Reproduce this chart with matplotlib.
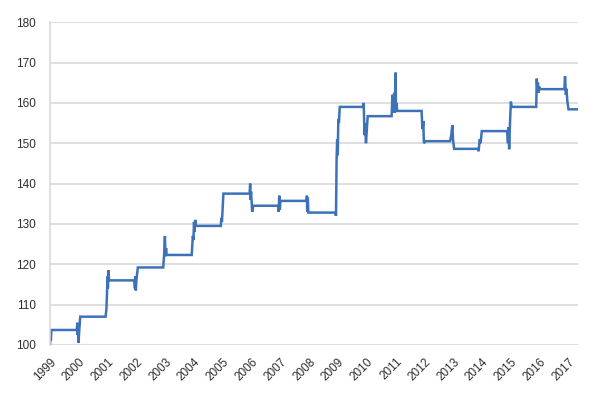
import matplotlib
matplotlib.use("Agg")
import matplotlib.pyplot as plt

# index level (decimal year, value)
years = [
    1999.00, 1999.02, 1999.03, 1999.05, 1999.93, 1999.95, 1999.96, 1999.97, 1999.99, 2000.02,
    2000.05, 2000.93, 2000.96, 2000.98, 2001.00, 2001.01, 2001.03, 2001.05, 2001.93, 2001.95,
    2001.96, 2001.98, 2002.00, 2002.05, 2002.93, 2002.96, 2002.99, 2003.01, 2003.03, 2003.05,
    2003.92, 2003.96, 2003.98, 2004.00, 2004.02, 2004.04, 2004.07, 2004.93, 2004.95, 2004.97,
    2005.02, 2005.93, 2005.95, 2005.96, 2005.98, 2006.02, 2006.06, 2006.92, 2006.94, 2006.96,
    2006.98, 2007.00, 2007.90, 2007.92, 2007.93, 2007.95, 2007.97, 2008.90, 2008.93, 2008.95,
    2008.97, 2008.99, 2009.01, 2009.03, 2009.06, 2009.87, 2009.89, 2009.92, 2009.94, 2009.97,
    2010.03, 2010.86, 2010.89, 2010.92, 2010.95, 2010.97, 2011.00, 2011.01, 2011.03, 2011.05,
    2011.90, 2011.92, 2011.94, 2011.96, 2011.98, 2012.04, 2012.89, 2012.93, 2012.97, 2012.99,
    2013.03, 2013.86, 2013.88, 2013.92, 2013.95, 2013.99, 2014.03, 2014.87, 2014.90, 2014.92,
    2014.94, 2014.97, 2015.00, 2015.03, 2015.88, 2015.90, 2015.92, 2015.94, 2015.96, 2015.98,
    2016.01, 2016.86, 2016.88, 2016.91, 2016.93, 2016.96, 2017.00, 2017.32,
]
values = [
    100.0, 102.5, 101.0, 103.7, 103.7, 105.5, 102.5, 104.5, 100.5, 104.0,
    107.0, 107.0, 109.0, 113.0, 117.0, 114.0, 118.5, 116.0, 116.0, 114.0,
    117.0, 113.5, 116.0, 119.2, 119.2, 122.0, 127.0, 122.0, 124.0, 122.3,
    122.3, 127.0, 126.0, 130.5, 128.0, 131.0, 129.5, 129.5, 131.5, 130.5,
    137.5, 137.5, 140.0, 136.0, 138.0, 133.0, 134.5, 134.5, 133.0, 137.0,
    133.5, 135.7, 135.7, 137.0, 133.0, 136.5, 132.8, 132.8, 132.0, 146.0,
    151.0, 147.0, 156.0, 155.0, 159.0, 159.0, 160.0, 152.0, 155.0, 150.0,
    156.7, 156.7, 162.0, 159.0, 162.5, 157.5, 167.5, 159.0, 160.0, 158.0,
    158.0, 155.0, 153.5, 155.5, 150.0, 150.5, 150.5, 152.0, 154.5, 151.0,
    148.6, 148.6, 148.0, 151.0, 150.0, 153.0, 153.0, 153.0, 150.0, 154.0,
    148.5, 155.0, 160.3, 159.0, 159.0, 166.0, 163.0, 165.0, 162.5, 164.0,
    163.4, 163.4, 166.6, 162.0, 163.5, 160.5, 158.4, 158.4,
]
year_ticks = list(range(1999, 2018))
y_ticks = [100, 110, 120, 130, 140, 150, 160, 170, 180]

plt.rcParams['font.family'] = ['Liberation Sans', 'DejaVu Sans']

fig = plt.figure(figsize=(6, 3.96), dpi=100)
ax = fig.add_axes([0.0833, 0.129, 0.88, 0.815])

ax.plot(years, values, color='#3d72b8', linewidth=1.8, solid_joinstyle='miter')

ax.set_xlim(1999, 2017.33)
ax.set_ylim(100, 180)
ax.set_yticks(y_ticks)
ax.set_xticks(year_ticks)
ax.set_xticklabels([str(y) for y in year_ticks], rotation=45, ha='right', va='top',
                   rotation_mode='anchor')
ax.tick_params(axis='both', length=0, labelsize=8.5, labelcolor='#2e2e2e')
ax.tick_params(axis='y', pad=10)
ax.tick_params(axis='x', pad=8)

ax.grid(axis='y', color='#d9d9d9', linewidth=1.2)
ax.set_axisbelow(True)
for s in ['top', 'right', 'bottom']:
    ax.spines[s].set_visible(False)
ax.spines['left'].set_color('#d9d9d9')
ax.spines['left'].set_linewidth(1.2)

fig.savefig('out.png', dpi=100, facecolor='white')
